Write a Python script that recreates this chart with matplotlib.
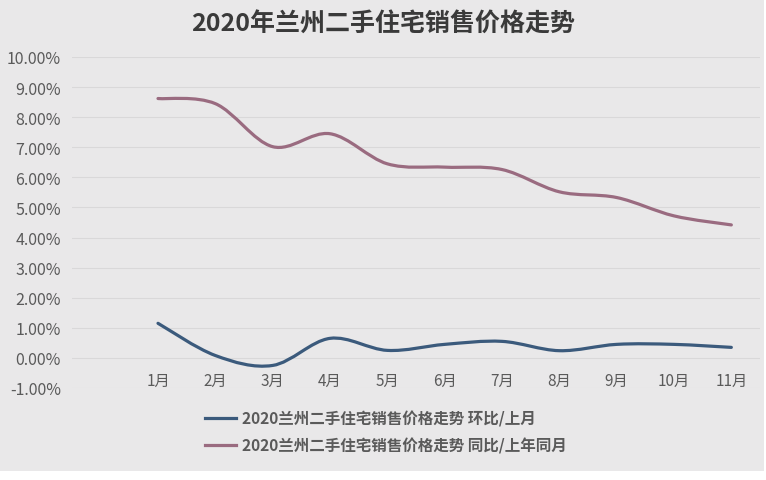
"""2020年兰州二手住宅销售价格走势 — 环比 / 同比 (平滑折线)."""
import matplotlib
matplotlib.use("Agg")
import matplotlib.pyplot as plt
from matplotlib.lines import Line2D
from matplotlib.patches import PathPatch, Rectangle
from matplotlib.path import Path
from matplotlib.ticker import FuncFormatter, MultipleLocator

plt.rcParams["font.family"] = ["Noto Sans CJK SC", "DejaVu Sans"]

MONTHS = ["1月", "2月", "3月", "4月", "5月", "6月", "7月", "8月", "9月", "10月", "11月"]
HUANBI = [1.15, 0.08, -0.25, 0.65, 0.25, 0.45, 0.55, 0.24, 0.45, 0.45, 0.35]
TONGBI = [8.62, 8.45, 7.02, 7.45, 6.45, 6.34, 6.26, 5.52, 5.33, 4.72, 4.42]
LABELS = ["2020兰州二手住宅销售价格走势 环比/上月",
          "2020兰州二手住宅销售价格走势 同比/上年同月"]

BLUE, MAUVE = "#3b5a7c", "#9a6b80"
BG, GRID, INK, INK2 = "#e9e8e9", "#d9d8d9", "#3a3a3a", "#5a5a5a"


def smooth_path(xs, ys):
    """Excel-style smoothed line: Catmull-Rom segments as cubic Bezier."""
    pts = list(zip(xs, ys))
    n = len(pts)
    verts, codes = [pts[0]], [Path.MOVETO]
    for i in range(n - 1):
        p0 = pts[max(i - 1, 0)]
        p1, p2 = pts[i], pts[i + 1]
        p3 = pts[min(i + 2, n - 1)]
        c1 = (p1[0] + (p2[0] - p0[0]) / 6, p1[1] + (p2[1] - p0[1]) / 6)
        c2 = (p2[0] - (p3[0] - p1[0]) / 6, p2[1] - (p3[1] - p1[1]) / 6)
        verts += [c1, c2, p2]
        codes += [Path.CURVE4] * 3
    return Path(verts, codes)


fig = plt.figure(figsize=(7.66, 4.81), dpi=100, facecolor="white")
# grey card with a thin white margin at right and bottom
fig.patches.append(Rectangle((0, 9 / 481), 764 / 766, 472 / 481, transform=fig.transFigure,
                             facecolor=BG, edgecolor="none", zorder=-10))

ax = fig.add_axes([72 / 766, 1 - 389 / 481, 688 / 766, 331 / 481])
ax.set_facecolor("none")
xs = list(range(1, len(MONTHS) + 1))
for vals, color in [(HUANBI, BLUE), (TONGBI, MAUVE)]:
    ax.add_patch(PathPatch(smooth_path(xs, vals), facecolor="none", edgecolor=color,
                           lw=2.3, capstyle="round", zorder=3))

ax.set_xlim(-0.5, 11.5)
ax.set_ylim(-1, 10)
ax.yaxis.set_major_locator(MultipleLocator(1))
ax.yaxis.set_major_formatter(FuncFormatter(lambda v, _: f"{v:.2f}%"))
ax.grid(axis="y", color=GRID, lw=0.8)
ax.set_axisbelow(True)
for s in ax.spines.values():
    s.set_visible(False)
ax.spines["bottom"].set_position(("data", 0))
ax.set_xticks(xs)
ax.set_xticklabels(MONTHS)
ax.tick_params(axis="x", length=0, pad=10, labelsize=11, labelcolor=INK2)
ax.tick_params(axis="y", length=0, pad=8, labelsize=11.5, labelcolor=INK2)

fig.text(383 / 766, 1 - 25 / 481, "2020年兰州二手住宅销售价格走势", ha="center", va="center",
         fontsize=18, fontweight="bold", color=INK)

handles = [Line2D([], [], color=c, lw=2.3) for c in (BLUE, MAUVE)]
fig.legend(handles, LABELS, loc="center", bbox_to_anchor=(386 / 766, 1 - 433 / 481),
           frameon=False, handlelength=2.0, handletextpad=0.4, labelspacing=0.65,
           prop={"size": 11.2, "weight": "bold"}, labelcolor=INK2)

fig.savefig("out.png", dpi=100, facecolor="white")
